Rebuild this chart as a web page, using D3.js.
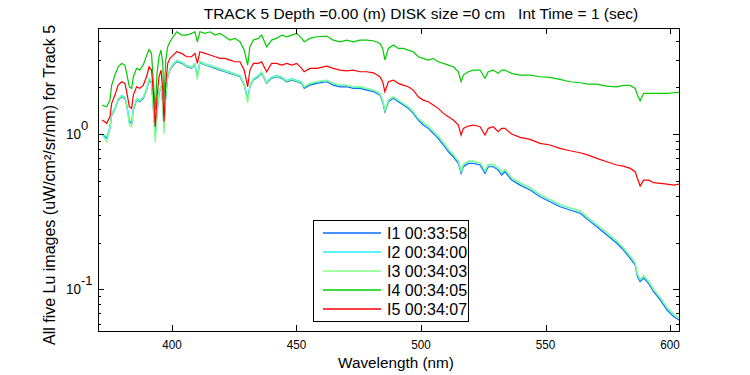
<!DOCTYPE html>
<html>
<head>
<meta charset="utf-8">
<script src="https://cdn.jsdelivr.net/npm/d3@7/dist/d3.min.js"></script>
<style>
  body { margin: 0; background: #fff; }
  text { font-family: "Liberation Sans", Arial, sans-serif; fill: #000; }
</style>
</head>
<body>
<div id="chart"></div>
<script>
// Wavelength grid (nm), shared by all five images
const wavelength = [
  372.0, 373.8, 375.1, 375.8, 377.1, 378.4, 379.8, 381.1, 381.8, 382.9,
  383.8, 384.5, 385.8, 387.1, 388.5, 389.8, 390.8, 391.8, 392.5, 393.3,
  394.0, 394.8, 395.6, 396.3, 396.8, 397.5, 398.3, 399.2, 400.5, 401.9,
  403.9, 405.9, 407.9, 409.2, 410.2, 411.2, 413.3, 415.3, 417.3, 419.3,
  421.3, 423.3, 425.3, 427.3, 429.0, 430.4, 431.3, 432.7, 434.7, 436.0,
  438.0, 440.0, 442.0, 444.1, 446.1, 448.1, 450.1, 452.1, 453.1, 455.4,
  458.1, 462.1, 464.8, 467.5, 470.2, 472.8, 475.5, 478.2, 480.9, 483.5,
  484.6, 485.5, 486.9, 488.9, 490.9, 492.9, 494.9, 496.9, 498.9, 500.9,
  502.9, 504.9, 506.9, 509.0, 511.0, 513.0, 515.0, 516.1, 517.0, 519.0,
  521.0, 523.7, 525.7, 527.0, 529.0, 531.0, 532.4, 533.7, 536.4, 539.8,
  543.8, 547.8, 551.8, 555.8, 559.8, 563.9, 567.2, 570.6, 574.6, 578.6,
  581.3, 584.0, 586.0, 586.9, 588.0, 589.4, 591.4, 593.4, 596.1, 598.8,
  601.5, 603.6
];

// Lu (uW/cm^2/sr/nm) for each image
const lu1 = [
  0.985, 0.938, 1.093, 1.325, 1.442, 1.655, 1.739, 1.698, 1.537, 1.200,
  1.172, 1.427, 1.655, 1.614, 1.698, 1.920, 2.227, 2.121, 1.499, 0.961,
  1.359, 1.829, 2.016, 1.576, 1.088, 1.739, 2.339, 2.583, 2.782, 2.921,
  2.853, 2.713, 2.649, 2.782, 2.339, 2.878, 2.782, 2.713, 2.649, 2.583,
  2.519, 2.460, 2.399, 2.339, 2.068, 1.655, 2.016, 2.227, 2.339, 2.460,
  2.121, 2.284, 2.339, 2.284, 2.172, 2.227, 2.172, 2.121, 1.969, 2.068,
  2.121, 2.172, 2.068, 2.016, 2.016, 1.969, 1.969, 1.920, 1.873, 1.783,
  1.614, 1.392, 1.614, 1.698, 1.614, 1.537, 1.464, 1.359, 1.231, 1.143,
  1.088, 1.010, 0.938, 0.850, 0.769, 0.714, 0.647, 0.558, 0.616, 0.647,
  0.647, 0.632, 0.558, 0.616, 0.616, 0.586, 0.545, 0.572, 0.505, 0.469,
  0.436, 0.395, 0.366, 0.340, 0.324, 0.309, 0.279, 0.253, 0.224, 0.198,
  0.179, 0.158, 0.143, 0.121, 0.112, 0.118, 0.109, 0.0965, 0.0853, 0.0736,
  0.0666, 0.0634
];
const lu2 = [
  1.005, 0.957, 1.115, 1.352, 1.471, 1.688, 1.774, 1.732, 1.568, 1.224,
  1.195, 1.456, 1.688, 1.646, 1.732, 1.958, 2.272, 2.163, 1.529, 0.980,
  1.386, 1.866, 2.056, 1.608, 1.110, 1.774, 2.386, 2.635, 2.838, 2.979,
  2.910, 2.767, 2.702, 2.838, 2.386, 2.936, 2.838, 2.767, 2.702, 2.635,
  2.569, 2.509, 2.447, 2.386, 2.109, 1.688, 2.056, 2.272, 2.386, 2.509,
  2.163, 2.330, 2.386, 2.330, 2.215, 2.272, 2.215, 2.163, 2.008, 2.109,
  2.163, 2.215, 2.109, 2.056, 2.056, 2.008, 2.008, 1.958, 1.910, 1.819,
  1.646, 1.420, 1.646, 1.732, 1.646, 1.568, 1.493, 1.386, 1.256, 1.177,
  1.121, 1.040, 0.966, 0.876, 0.792, 0.735, 0.666, 0.575, 0.634, 0.666,
  0.666, 0.651, 0.575, 0.634, 0.634, 0.604, 0.561, 0.589, 0.520, 0.483,
  0.449, 0.407, 0.377, 0.350, 0.334, 0.318, 0.287, 0.261, 0.231, 0.204,
  0.184, 0.163, 0.147, 0.125, 0.115, 0.122, 0.112, 0.0994, 0.0879, 0.0758,
  0.0686, 0.0653
];
const lu3 = [
  0.995, 0.891, 1.104, 1.338, 1.456, 1.672, 1.756, 1.715, 1.552, 1.140,
  1.113, 1.441, 1.672, 1.630, 1.715, 1.939, 2.249, 2.142, 1.424, 0.880,
  1.373, 1.847, 2.036, 1.497, 1.000, 1.756, 2.362, 2.609, 2.810, 2.950,
  2.882, 2.740, 2.675, 2.810, 2.245, 2.907, 2.810, 2.740, 2.675, 2.609,
  2.544, 2.485, 2.423, 2.362, 2.089, 1.589, 2.036, 2.249, 2.362, 2.485,
  2.142, 2.307, 2.362, 2.307, 2.194, 2.249, 2.194, 2.142, 2.018, 2.120,
  2.174, 2.226, 2.120, 2.066, 2.066, 2.018, 2.018, 1.968, 1.920, 1.828,
  1.654, 1.427, 1.654, 1.740, 1.654, 1.575, 1.501, 1.393, 1.262, 1.183,
  1.126, 1.045, 0.971, 0.880, 0.796, 0.739, 0.670, 0.578, 0.638, 0.670,
  0.670, 0.654, 0.578, 0.638, 0.638, 0.607, 0.564, 0.592, 0.523, 0.485,
  0.451, 0.409, 0.379, 0.352, 0.335, 0.320, 0.289, 0.262, 0.232, 0.205,
  0.185, 0.164, 0.148, 0.125, 0.116, 0.122, 0.113, 0.0999, 0.0883, 0.0762,
  0.0689, 0.0656
];
const lu4 = [
  1.537, 1.499, 1.655, 2.068, 2.399, 2.713, 2.853, 2.782, 2.460, 2.016,
  1.969, 2.339, 2.649, 2.583, 2.800, 3.200, 3.500, 3.300, 2.200, 1.427,
  2.460, 3.146, 3.474, 2.853, 1.655, 2.996, 3.649, 3.929, 4.232, 4.557,
  4.341, 4.341, 4.451, 4.557, 3.929, 4.557, 4.451, 4.557, 4.341, 4.451,
  4.232, 4.030, 4.133, 3.929, 3.474, 2.782, 3.649, 4.030, 4.133, 4.341,
  3.649, 4.030, 4.133, 4.341, 4.232, 4.341, 4.451, 4.133, 3.929, 4.133,
  4.232, 4.276, 4.030, 3.929, 4.030, 3.929, 4.030, 4.030, 3.989, 3.837,
  3.563, 3.000, 3.563, 3.743, 3.563, 3.563, 3.474, 3.388, 3.146, 3.073,
  2.996, 3.073, 2.921, 2.853, 2.782, 2.713, 2.519, 2.172, 2.399, 2.519,
  2.583, 2.583, 2.284, 2.519, 2.583, 2.460, 2.583, 2.583, 2.460, 2.399,
  2.399, 2.339, 2.318, 2.250, 2.172, 2.140, 2.099, 2.099, 2.037, 2.016,
  2.058, 2.058, 1.969, 1.783, 1.638, 1.829, 1.829, 1.829, 1.829, 1.829,
  1.845, 1.856
];
const lu5 = [
  1.231, 1.172, 1.292, 1.576, 1.783, 2.068, 2.172, 2.121, 1.873, 1.499,
  1.464, 1.783, 2.016, 1.969, 2.068, 2.339, 2.713, 2.583, 1.873, 1.114,
  1.739, 2.339, 2.583, 1.920, 1.200, 2.121, 2.853, 3.073, 3.227, 3.388,
  3.308, 3.146, 3.146, 3.308, 2.853, 3.388, 3.308, 3.227, 3.146, 3.073,
  3.073, 2.996, 2.921, 2.921, 2.583, 2.016, 2.583, 2.853, 2.853, 2.921,
  2.519, 2.853, 2.853, 2.782, 2.853, 2.782, 2.853, 2.649, 2.519, 2.649,
  2.649, 2.741, 2.649, 2.583, 2.556, 2.583, 2.519, 2.519, 2.481, 2.339,
  2.172, 1.873, 2.172, 2.227, 2.121, 2.068, 2.016, 1.920, 1.739, 1.655,
  1.614, 1.537, 1.464, 1.359, 1.292, 1.231, 1.143, 0.985, 1.088, 1.126,
  1.143, 1.114, 0.985, 1.088, 1.114, 1.035, 1.088, 1.088, 1.000, 0.952,
  0.924, 0.871, 0.850, 0.809, 0.781, 0.758, 0.732, 0.697, 0.663, 0.632,
  0.622, 0.601, 0.572, 0.519, 0.463, 0.505, 0.505, 0.486, 0.481, 0.476,
  0.469, 0.476
];

const legendLabels = ["I1 00:33:58", "I2 00:34:00", "I3 00:34:03", "I4 00:34:05", "I5 00:34:07"];
const xTicks = [400, 450, 500, 550, 600];
const yMajorTicks = [0.1, 1];
const yMajorExp = ["-1", "0"];
const yMinorTicks = [0.06, 0.07, 0.08, 0.09, 0.2, 0.3, 0.4, 0.5, 0.6, 0.7, 0.8, 0.9, 2, 3, 4];

const seriesValues = [lu1, lu2, lu3, lu4, lu5];
const seriesColors = ["#0a6cff", "#22eef8", "#84ff84", "#00cc00", "#ff0000"];

const width = 750, height = 375;
const plotLeft = 98, plotRight = 679, plotTop = 28, plotBottom = 331;

const svg = d3.select("#chart")
  .append("svg")
  .attr("width", width)
  .attr("height", height);

const x = d3.scaleLinear().domain([370.3, 603.6]).range([plotLeft, plotRight]);
const y = d3.scaleLog().domain([0.0539, 4.82]).range([plotBottom, plotTop]);

// === LINES ===
const line = d3.line()
  .x(d => x(d[0]))
  .y(d => y(d[1]));

seriesValues.forEach((vals, i) => {
  svg.append("path")
    .datum(wavelength.map((w, j) => [w, vals[j]]))
    .attr("d", line)
    .attr("fill", "none")
    .attr("stroke", seriesColors[i])
    .attr("stroke-width", 1.2);
});

// === AXES (box with inward ticks) ===
const axes = svg.append("g").attr("shape-rendering", "crispEdges");
axes.append("rect")
  .attr("x", plotLeft + 0.5).attr("y", plotTop + 0.5)
  .attr("width", plotRight - plotLeft).attr("height", plotBottom - plotTop)
  .attr("fill", "none").attr("stroke", "#000");

xTicks.forEach(t => {
  const px = Math.round(x(t)) + 0.5;
  axes.append("line").attr("x1", px).attr("x2", px).attr("y1", plotBottom).attr("y2", plotBottom - 6).attr("stroke", "#000");
  axes.append("line").attr("x1", px).attr("x2", px).attr("y1", plotTop).attr("y2", plotTop + 6).attr("stroke", "#000");
  svg.append("text")
    .attr("x", x(t) - 9.75).attr("y", plotBottom + 18)
    .attr("textLength", 19.5)
    .attr("lengthAdjust", "spacingAndGlyphs")
    .style("font-size", "13.5px")
    .text(t);
});

function yTick(v, len) {
  const py = Math.round(y(v)) + 0.5;
  axes.append("line").attr("x1", plotLeft).attr("x2", plotLeft + len).attr("y1", py).attr("y2", py).attr("stroke", "#000");
  axes.append("line").attr("x1", plotRight).attr("x2", plotRight - len).attr("y1", py).attr("y2", py).attr("stroke", "#000");
}
yMinorTicks.forEach(v => yTick(v, 3));
yMajorTicks.forEach((v, i) => {
  yTick(v, 6);
  svg.append("text")
    .attr("x", 66).attr("y", y(v) + 5)
    .attr("textLength", 15)
    .attr("lengthAdjust", "spacingAndGlyphs")
    .style("font-size", "14px")
    .text("10");
  svg.append("text")
    .attr("x", 81).attr("y", y(v) - 4)
    .style("font-size", "13px")
    .text(yMajorExp[i]);
});

// === LABELS ===
svg.append("text")
  .attr("x", 421).attr("y", 19)
  .attr("text-anchor", "middle")
  .style("font-size", "15.5px")
  .style("white-space", "pre")
  .text("TRACK 5 Depth =0.00 (m) DISK size =0 cm   Int Time = 1 (sec)");

svg.append("text")
  .attr("x", 396).attr("y", 368)
  .attr("text-anchor", "middle")
  .style("font-size", "15.3px")
  .text("Wavelength (nm)");

svg.append("text")
  .attr("transform", `translate(55,185) rotate(-90)`)
  .attr("text-anchor", "middle")
  .style("font-size", "16px")
  .text("All five Lu images (uW/cm\u00B2/sr/nm) for Track 5");

// === LEGEND ===
const legend = svg.append("g");
legend.append("rect")
  .attr("x", 313.5).attr("y", 220.5)
  .attr("width", 155).attr("height", 101)
  .attr("fill", "#fff").attr("stroke", "#000")
  .attr("shape-rendering", "crispEdges");

legendLabels.forEach((label, i) => {
  const ly = 233 + i * 19;
  legend.append("line")
    .attr("x1", 323).attr("x2", 381)
    .attr("y1", ly).attr("y2", ly)
    .attr("stroke", seriesColors[i])
    .attr("stroke-width", 1.5);
  legend.append("text")
    .attr("x", 387).attr("y", ly + 6)
    .style("font-size", "16px")
    .text(label);
});
</script>
</body>
</html>
